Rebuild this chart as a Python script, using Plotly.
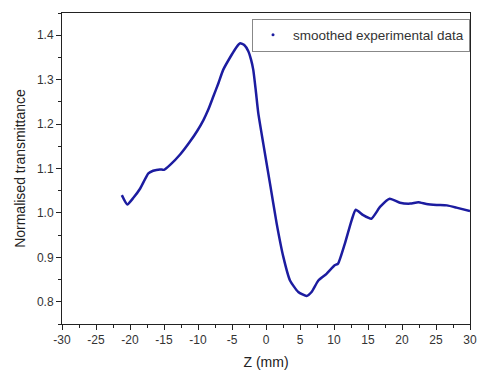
import plotly.graph_objects as go

# Z-scan trace: normalised transmittance vs sample position Z (mm)
z_mm = [-21.2, -20.4, -19.5, -18.5, -17.3, -16.6, -15.6, -15.0, -14.1, -12.6,
        -11.2, -10.1, -9.2, -8.5, -7.75, -7.0, -6.3, -5.05, -4.4, -3.8,
        -3.2, -2.6, -2.2, -1.87, -1.5, -1.13, -0.4, 0.59, 1.57,
        2.55, 3.53, 4.75, 5.98, 6.7, 7.7, 8.9, 10.1, 10.6, 11.6,
        12.6, 13.2, 14.3, 15.5, 16.8, 18.2, 19.7, 21.2, 22.4, 23.6,
        25.1, 26.6, 28.0, 30.0]
transmittance = [1.040, 1.019, 1.034, 1.055, 1.089, 1.095, 1.098, 1.097, 1.108, 1.132,
                 1.160, 1.185, 1.209, 1.232, 1.262, 1.292, 1.322, 1.356, 1.372, 1.382,
                 1.378, 1.364, 1.345, 1.322, 1.275, 1.224, 1.156, 1.066, 0.976,
                 0.901, 0.848, 0.822, 0.813, 0.822, 0.848, 0.863, 0.882, 0.886, 0.931,
                 0.984, 1.007, 0.995, 0.987, 1.014, 1.032, 1.023, 1.021, 1.024, 1.020,
                 1.018, 1.017, 1.012, 1.004]

x_ticks = list(range(-30, 31, 5))
y_ticks = [0.8, 0.9, 1.0, 1.1, 1.2, 1.3, 1.4]

series_name = "smoothed experimental data"
line_color = "#1c1ca0"
font_family = "Liberation Sans, Arial, sans-serif"

fig = go.Figure()
fig.add_trace(go.Scatter(
    x=z_mm, y=transmittance, mode="lines",
    line=dict(color=line_color, width=2.5, shape="spline", smoothing=0.5),
    showlegend=False,
))
# legend entry shown as a single dot marker
fig.add_trace(go.Scatter(
    x=[None], y=[None], mode="markers", name=series_name,
    marker=dict(color=line_color, size=3),
))

axis_common = dict(
    showline=True, linecolor="#222", linewidth=1, mirror=True,
    ticks="outside", ticklen=5, tickcolor="#222", tickwidth=1,
    showgrid=False, zeroline=False, automargin=False,
    tickfont=dict(family=font_family, size=12, color="#333"),
)

fig.update_layout(
    width=477, height=372,
    margin=dict(l=62, r=7, t=13, b=48),
    paper_bgcolor="white", plot_bgcolor="white",
    font=dict(family=font_family, color="#222"),
    xaxis=dict(
        range=[-30, 30], tickvals=x_ticks,
        ticktext=[str(v) for v in x_ticks],
        minor=dict(dtick=2.5, ticks="outside", ticklen=3, tickcolor="#222"),
        title=dict(text="Z (mm)", font=dict(size=14, family=font_family), standoff=10),
        **axis_common,
    ),
    yaxis=dict(
        range=[0.75, 1.45], tickvals=y_ticks,
        ticktext=[f"{v:.1f}" for v in y_ticks],
        minor=dict(dtick=0.05, ticks="outside", ticklen=3, tickcolor="#222"),
        title=dict(text="Normalised transmittance", font=dict(size=14, family=font_family), standoff=8),
        **axis_common,
    ),
    legend=dict(
        x=1.0, y=0.982, xanchor="right", yanchor="top",
        bordercolor="#888", borderwidth=1, bgcolor="white",
        font=dict(family=font_family, size=13.5, color="#333"),
        itemwidth=30, tracegroupgap=0,
    ),
)

fig.write_html("out.html")
